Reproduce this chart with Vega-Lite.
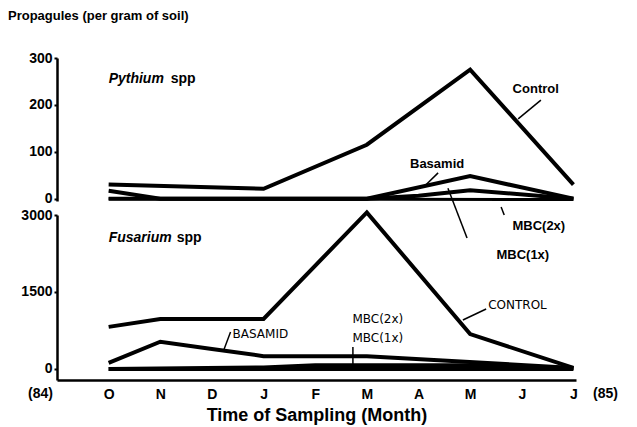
{
  "$schema": "https://vega.github.io/schema/vega-lite/v6.json",
  "padding": {"left": 8, "top": 10, "right": 5, "bottom": 5},
  "background": "white",
  "bounds": "flush",
  "title": {"text": "Propagules (per gram of soil)", "anchor": "start", "frame": "group", "dx": -49, "offset": 28, "fontSize": 13, "font": "Liberation Sans", "fontWeight": "bold", "color": "black"},
  "config": {
    "view": {"stroke": null},
    "font": "Liberation Sans",
    "axis": {"grid": false, "domainColor": "black", "domainWidth": 2.5, "tickColor": "black", "tickWidth": 2, "tickSize": 4, "labelColor": "black", "labelFont": "Liberation Sans", "labelFontWeight": "bold", "labelFontSize": 14, "titleColor": "black"}
  },
  "datasets": {
    "pythium": [
      {"month": 0, "series": "Control", "value": 30},
      {"month": 3, "series": "Control", "value": 21},
      {"month": 5, "series": "Control", "value": 115},
      {"month": 7, "series": "Control", "value": 275},
      {"month": 9, "series": "Control", "value": 30},
      {"month": 0, "series": "Basamid", "value": 17},
      {"month": 1, "series": "Basamid", "value": 0},
      {"month": 5, "series": "Basamid", "value": 0},
      {"month": 7, "series": "Basamid", "value": 48},
      {"month": 9, "series": "Basamid", "value": 0},
      {"month": 0, "series": "MBC(1x)", "value": 0},
      {"month": 5, "series": "MBC(1x)", "value": 0},
      {"month": 6, "series": "MBC(1x)", "value": 6},
      {"month": 7, "series": "MBC(1x)", "value": 18},
      {"month": 9, "series": "MBC(1x)", "value": 0},
      {"month": 0, "series": "MBC(2x)", "value": 0},
      {"month": 9, "series": "MBC(2x)", "value": -2}
    ],
    "fusarium": [
      {"month": 0, "series": "Control", "value": 820},
      {"month": 1, "series": "Control", "value": 975},
      {"month": 3, "series": "Control", "value": 975},
      {"month": 5, "series": "Control", "value": 3050},
      {"month": 7, "series": "Control", "value": 680},
      {"month": 9, "series": "Control", "value": 20},
      {"month": 0, "series": "Basamid", "value": 120},
      {"month": 1, "series": "Basamid", "value": 530},
      {"month": 2, "series": "Basamid", "value": 390},
      {"month": 3, "series": "Basamid", "value": 250},
      {"month": 5, "series": "Basamid", "value": 250},
      {"month": 9, "series": "Basamid", "value": 20},
      {"month": 0, "series": "MBC(2x)", "value": 0},
      {"month": 3, "series": "MBC(2x)", "value": 30},
      {"month": 4, "series": "MBC(2x)", "value": 70},
      {"month": 7, "series": "MBC(2x)", "value": 70},
      {"month": 9, "series": "MBC(2x)", "value": 20},
      {"month": 0, "series": "MBC(1x)", "value": 0},
      {"month": 9, "series": "MBC(1x)", "value": 0}
    ],
    "pythiumLabels": [
      {"x": 8.27, "y": 234, "label": "Control"},
      {"x": 6.36, "y": 74, "label": "Basamid"},
      {"x": 8.33, "y": -58, "label": "MBC(2x)"},
      {"x": 8.02, "y": -120, "label": "MBC(1x)"}
    ],
    "pythiumLeaders": [
      {"x": 8.37, "y": 210, "x2": 7.93, "y2": 170},
      {"x": 6.38, "y": 55, "x2": 6.14, "y2": 29},
      {"x": 7.6, "y": -18, "x2": 7.66, "y2": -35},
      {"x": 6.57, "y": 22, "x2": 6.94, "y2": -84}
    ],
    "fusariumLabels": [
      {"x": 7.35, "y": 1247, "label": "CONTROL"},
      {"x": 2.4, "y": 682, "label": "BASAMID"},
      {"x": 4.72, "y": 974, "label": "MBC(2x)"},
      {"x": 4.72, "y": 604, "label": "MBC(1x)"}
    ],
    "fusariumLeaders": [
      {"x": 6.86, "y": 955, "x2": 7.31, "y2": 1169},
      {"x": 2.36, "y": 721, "x2": 2.23, "y2": 370},
      {"x": 4.73, "y": 429, "x2": 4.73, "y2": 39}
    ],
    "years": [
      {"x": -1.32, "y": -487, "label": "(84)"},
      {"x": 9.62, "y": -487, "label": "(85)"}
    ]
  },
  "vconcat": [
    {
      "width": 519,
      "height": 143,
      "layer": [
        {
          "data": {"name": "pythium"},
          "transform": [{"filter": "datum.series !== 'MBC(2x)'"}],
          "mark": {"type": "line", "color": "black", "strokeWidth": 4, "strokeJoin": "miter"},
          "encoding": {
            "x": {"field": "month", "type": "quantitative", "scale": {"domain": [-1, 9.05], "nice": false}, "axis": null},
            "y": {"field": "value", "type": "quantitative", "scale": {"domain": [-5, 300], "nice": false}, "axis": {"values": [0, 100, 200, 300], "format": "d", "title": null, "labelPadding": 2, "tickSize": 3}},
            "detail": {"field": "series"}
          }
        },
        {
          "data": {"name": "pythium"},
          "transform": [{"filter": "datum.series === 'MBC(2x)'"}],
          "mark": {"type": "line", "color": "black", "strokeWidth": 3},
          "encoding": {
            "x": {"field": "month", "type": "quantitative"},
            "y": {"field": "value", "type": "quantitative"}
          }
        },
        {
          "data": {"values": [{"x": 0, "y": 255, "a": "Pythium", "b": "spp"}]},
          "layer": [
            {"mark": {"type": "text", "align": "left", "baseline": "middle", "fontSize": 14, "fontWeight": "bold", "fontStyle": "italic", "color": "black"},
             "encoding": {"x": {"field": "x", "type": "quantitative"}, "y": {"field": "y", "type": "quantitative"}, "text": {"field": "a"}}},
            {"mark": {"type": "text", "align": "left", "baseline": "middle", "fontSize": 14, "fontWeight": "bold", "dx": 62, "color": "black"},
             "encoding": {"x": {"field": "x", "type": "quantitative"}, "y": {"field": "y", "type": "quantitative"}, "text": {"field": "b"}}}
          ]
        },
        {
          "data": {"name": "pythiumLabels"},
          "mark": {"type": "text", "align": "center", "baseline": "middle", "fontSize": 13, "fontWeight": "bold", "color": "black"},
          "encoding": {"x": {"field": "x", "type": "quantitative"}, "y": {"field": "y", "type": "quantitative"}, "text": {"field": "label"}}
        },
        {
          "data": {"name": "pythiumLeaders"},
          "mark": {"type": "rule", "color": "black", "strokeWidth": 1.5},
          "encoding": {"x": {"field": "x", "type": "quantitative"}, "y": {"field": "y", "type": "quantitative"}, "x2": {"field": "x2"}, "y2": {"field": "y2"}}
        }
      ]
    },
    {
      "width": 519,
      "height": 165,
      "layer": [
        {
          "data": {"name": "fusarium"},
          "mark": {"type": "line", "color": "black", "strokeWidth": 4, "strokeJoin": "miter"},
          "encoding": {
            "x": {"field": "month", "type": "quantitative", "scale": {"domain": [-1, 9.05], "nice": false},
                  "axis": {"values": [0, 1, 2, 3, 4, 5, 6, 7, 8, 9], "labelExpr": "['O','N','D','J','F','M','A','M','J','J'][datum.value]", "ticks": false, "labelPadding": 7, "title": "Time of Sampling (Month)", "titleFontSize": 18, "titleFontWeight": "bold", "titleFont": "Liberation Sans", "titlePadding": 5}},
            "y": {"field": "value", "type": "quantitative", "scale": {"domain": [-215, 3000], "nice": false}, "axis": {"values": [0, 1500, 3000], "format": "d", "title": null, "labelPadding": 2, "tickSize": 3}},
            "detail": {"field": "series"}
          }
        },
        {
          "data": {"values": [{"x": 0, "y": 2552, "a": "Fusarium", "b": "spp"}]},
          "layer": [
            {"mark": {"type": "text", "align": "left", "baseline": "middle", "fontSize": 14, "fontWeight": "bold", "fontStyle": "italic", "color": "black"},
             "encoding": {"x": {"field": "x", "type": "quantitative"}, "y": {"field": "y", "type": "quantitative"}, "text": {"field": "a"}}},
            {"mark": {"type": "text", "align": "left", "baseline": "middle", "fontSize": 14, "fontWeight": "bold", "dx": 68, "color": "black"},
             "encoding": {"x": {"field": "x", "type": "quantitative"}, "y": {"field": "y", "type": "quantitative"}, "text": {"field": "b"}}}
          ]
        },
        {
          "data": {"name": "fusariumLabels"},
          "mark": {"type": "text", "align": "left", "baseline": "middle", "fontSize": 12, "font": "DejaVu Sans", "color": "black"},
          "encoding": {"x": {"field": "x", "type": "quantitative"}, "y": {"field": "y", "type": "quantitative"}, "text": {"field": "label"}}
        },
        {
          "data": {"name": "fusariumLeaders"},
          "mark": {"type": "rule", "color": "black", "strokeWidth": 1.5},
          "encoding": {"x": {"field": "x", "type": "quantitative"}, "y": {"field": "y", "type": "quantitative"}, "x2": {"field": "x2"}, "y2": {"field": "y2"}}
        },
        {
          "data": {"name": "years"},
          "mark": {"type": "text", "align": "center", "baseline": "middle", "fontSize": 14, "fontWeight": "bold", "color": "black"},
          "encoding": {"x": {"field": "x", "type": "quantitative"}, "y": {"field": "y", "type": "quantitative"}, "text": {"field": "label"}}
        }
      ]
    }
  ],
  "spacing": 14
}
